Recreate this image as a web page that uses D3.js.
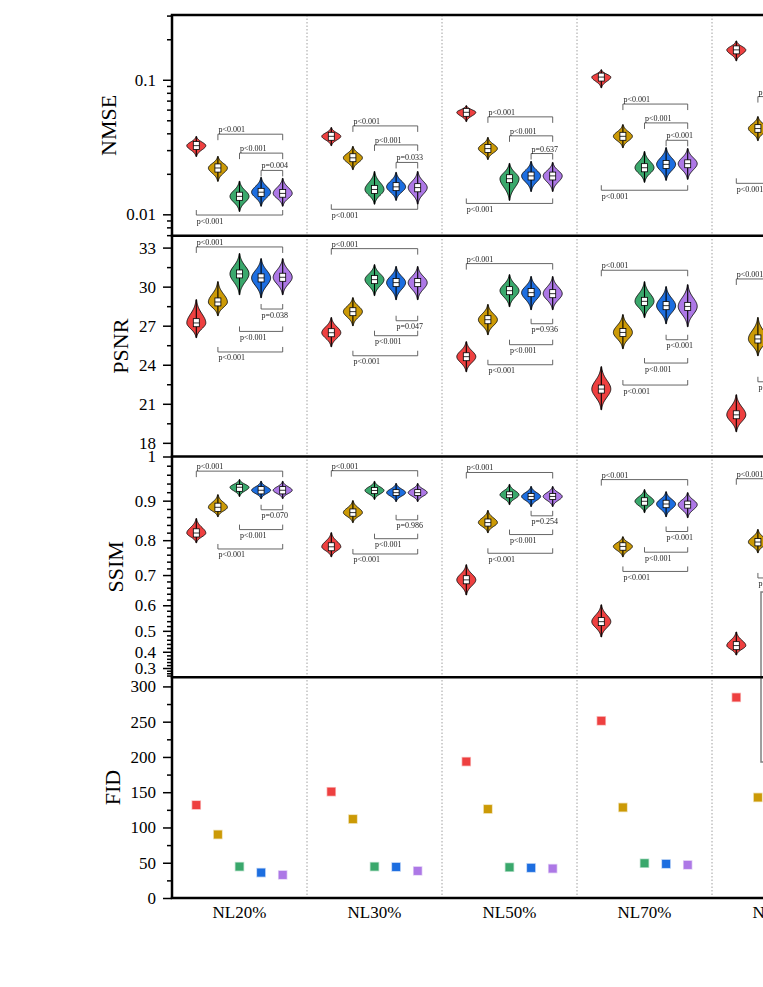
<!DOCTYPE html>
<html>
<head>
<meta charset="utf-8">
<script src="https://cdn.jsdelivr.net/npm/d3@7"></script>
<style>
    body { margin: 0; overflow: hidden; background: #fff; }
    text { font-family: "Liberation Serif", "Times New Roman", serif; }
    .brackets { filter: grayscale(1); }
</style>
</head>
<body>
<div id="wrapper"></div>
<script>
const groups = ["NL20%", "NL30%", "NL50%", "NL70%", "NL90%"];
const methods = ["M1", "M2", "M3", "M4", "M5"];
const methodColors = ["#ee4040", "#cc9a06", "#3aa86c", "#1d6ee0", "#ad78e6"];

// rows = methods, columns = groups
const nmseMed = [
    [0.0324, 0.0380, 0.0573, 0.1047, 0.1668],
    [0.0221, 0.0263, 0.0308, 0.0380, 0.0434],
    [0.0136, 0.0153, 0.0184, 0.0222, 0.0256],
    [0.0146, 0.0160, 0.0193, 0.0235, 0.0265],
    [0.0143, 0.0158, 0.0193, 0.0238, 0.0268]
];
const nmseQ1 = [
    [0.0303, 0.0355, 0.0535, 0.0978, 0.1558],
    [0.0206, 0.0246, 0.0288, 0.0355, 0.0407],
    [0.0127, 0.0143, 0.0172, 0.0207, 0.0240],
    [0.0136, 0.0150, 0.0180, 0.0219, 0.0248],
    [0.0134, 0.0147, 0.0180, 0.0222, 0.0251]
];
const nmseQ3 = [
    [0.0348, 0.0407, 0.0613, 0.1121, 0.1786],
    [0.0237, 0.0282, 0.0330, 0.0407, 0.0464],
    [0.0146, 0.0164, 0.0197, 0.0238, 0.0273],
    [0.0156, 0.0172, 0.0206, 0.0251, 0.0283],
    [0.0153, 0.0169, 0.0206, 0.0254, 0.0287]
];
const nmseLo = [
    [0.0269, 0.0324, 0.0489, 0.0872, 0.1382],
    [0.0176, 0.0215, 0.0256, 0.0313, 0.0353],
    [0.0105, 0.0119, 0.0127, 0.0173, 0.0200],
    [0.0115, 0.0127, 0.0148, 0.0179, 0.0207],
    [0.0115, 0.0119, 0.0148, 0.0182, 0.0210]
];
const nmseHi = [
    [0.0379, 0.0441, 0.0642, 0.1186, 0.1944],
    [0.0269, 0.0319, 0.0372, 0.0464, 0.0532],
    [0.0176, 0.0208, 0.0239, 0.0293, 0.0330],
    [0.0188, 0.0205, 0.0247, 0.0313, 0.0340],
    [0.0185, 0.0208, 0.0243, 0.0308, 0.0345]
];

const psnrMed = [
    [27.21, 26.46, 24.62, 22.13, 20.15],
    [28.82, 28.08, 27.46, 26.48, 25.98],
    [30.98, 30.54, 29.69, 28.87, 28.40],
    [30.67, 30.31, 29.54, 28.54, 28.10],
    [30.72, 30.31, 29.46, 28.48, 28.00]
];
const psnrQ1 = [
    [26.92, 26.15, 24.31, 21.82, 19.85],
    [28.52, 27.77, 27.15, 26.17, 25.67],
    [30.67, 30.23, 29.38, 28.56, 28.10],
    [30.36, 30.00, 29.23, 28.23, 27.80],
    [30.41, 30.00, 29.15, 28.17, 27.70]
];
const psnrQ3 = [
    [27.54, 26.77, 24.92, 22.44, 20.46],
    [29.13, 28.38, 27.77, 26.79, 26.29],
    [31.28, 30.85, 30.00, 29.18, 28.70],
    [30.98, 30.62, 29.85, 28.85, 28.40],
    [31.03, 30.62, 29.77, 28.79, 28.30]
];
const psnrLo = [
    [26.08, 25.38, 23.46, 20.54, 18.85],
    [27.77, 27.00, 26.31, 25.23, 24.69],
    [29.38, 29.31, 28.46, 27.62, 27.10],
    [29.15, 29.00, 28.23, 27.15, 26.80],
    [29.38, 29.00, 28.23, 26.92, 26.60]
];
const psnrHi = [
    [29.00, 27.62, 25.77, 23.85, 21.69],
    [30.38, 29.15, 28.62, 27.85, 27.62],
    [32.54, 31.69, 30.92, 30.38, 29.90],
    [32.15, 31.54, 30.77, 30.00, 29.60],
    [32.15, 31.54, 30.77, 30.15, 29.60]
];

const ssimMed = [
    [0.819, 0.782, 0.685, 0.538, 0.432],
    [0.884, 0.871, 0.846, 0.783, 0.795],
    [0.9315, 0.924, 0.914, 0.8985, 0.885],
    [0.9245, 0.919, 0.910, 0.892, 0.878],
    [0.9245, 0.919, 0.910, 0.8905, 0.876]
];
const ssimQ1 = [
    [0.8085, 0.771, 0.6725, 0.522, 0.411],
    [0.874, 0.862, 0.837, 0.7725, 0.7845],
    [0.922, 0.9167, 0.907, 0.889, 0.876],
    [0.916, 0.912, 0.9026, 0.883, 0.869],
    [0.916, 0.912, 0.9026, 0.882, 0.867]
];
const ssimQ3 = [
    [0.830, 0.793, 0.698, 0.554, 0.451],
    [0.894, 0.880, 0.855, 0.793, 0.8045],
    [0.938, 0.931, 0.921, 0.907, 0.894],
    [0.933, 0.926, 0.917, 0.901, 0.887],
    [0.933, 0.926, 0.917, 0.899, 0.885]
];
const ssimLo = [
    [0.793, 0.754, 0.636, 0.473, 0.382],
    [0.861, 0.846, 0.820, 0.754, 0.7655],
    [0.910, 0.903, 0.8905, 0.871, 0.850],
    [0.905, 0.898, 0.886, 0.861, 0.845],
    [0.905, 0.898, 0.886, 0.8585, 0.842]
];
const ssimHi = [
    [0.856, 0.820, 0.731, 0.6015, 0.495],
    [0.914, 0.900, 0.876, 0.809, 0.828],
    [0.949, 0.945, 0.938, 0.926, 0.910],
    [0.945, 0.940, 0.933, 0.921, 0.905],
    [0.945, 0.940, 0.933, 0.919, 0.903]
];

const fidValues = [
    [131.8, 150.7, 193.4, 251.2, 284.4],
    [90.0, 111.9, 126.1, 128.4, 142.6],
    [44.5, 44.5, 43.6, 49.3, 52.0],
    [36.0, 44.0, 42.7, 48.3, 50.0],
    [32.7, 38.4, 41.7, 46.9, 48.0]
];

// significance brackets: [method a, method b, side]
const nmsePairs = [[1, 4, "top"], [2, 4, "top"], [3, 4, "top"], [0, 4, "bottom"]];
const nmseBracketY = [
    [0.0394, 0.0285, 0.0212, 0.00988],
    [0.0454, 0.0328, 0.0243, 0.0109],
    [0.0530, 0.0383, 0.0283, 0.01205],
    [0.0660, 0.0478, 0.0355, 0.0151],
    [0.0750, 0.0550, 0.0400, 0.0170]
];
const nmsePLabels = [
    ["p<0.001", "p<0.001", "p=0.004", "p<0.001"],
    ["p<0.001", "p<0.001", "p=0.033", "p<0.001"],
    ["p<0.001", "p<0.001", "p=0.637", "p<0.001"],
    ["p<0.001", "p<0.001", "p<0.001", "p<0.001"],
    ["p<0.001", "p<0.001", "p<0.001", "p<0.001"]
];

const psnrPairs = [[0, 4, "top"], [3, 4, "bottom"], [2, 4, "bottom"], [1, 4, "bottom"]];
const psnrBracketY = [
    [33.05, 28.28, 26.56, 24.98],
    [32.92, 27.38, 26.23, 24.69],
    [31.77, 27.15, 25.54, 24.00],
    [31.26, 25.92, 24.13, 22.44],
    [30.59, 26.10, 24.40, 22.69]
];
const psnrPLabels = [
    ["p<0.001", "p=0.038", "p<0.001", "p<0.001"],
    ["p<0.001", "p=0.047", "p<0.001", "p<0.001"],
    ["p<0.001", "p=0.936", "p<0.001", "p<0.001"],
    ["p<0.001", "p<0.001", "p<0.001", "p<0.001"],
    ["p<0.001", "p<0.001", "p<0.001", "p<0.001"]
];

const ssimPairs = [[0, 4, "top"], [3, 4, "bottom"], [2, 4, "bottom"], [1, 4, "bottom"]];
const ssimBracketY = [
    [0.968, 0.878, 0.828, 0.776],
    [0.969, 0.853, 0.804, 0.762],
    [0.965, 0.863, 0.815, 0.764],
    [0.949, 0.823, 0.767, 0.711],
    [0.951, 0.800, 0.750, 0.691]
];
const ssimPLabels = [
    ["p<0.001", "p=0.070", "p<0.001", "p<0.001"],
    ["p<0.001", "p=0.986", "p<0.001", "p<0.001"],
    ["p<0.001", "p=0.254", "p<0.001", "p<0.001"],
    ["p<0.001", "p<0.001", "p<0.001", "p<0.001"],
    ["p<0.001", "p<0.001", "p<0.001", "p<0.001"]
];

const nmseTicks = [0.01, 0.1];
const psnrTicks = [18, 21, 24, 27, 30, 33];
const ssimTicks = [0.3, 0.4, 0.5, 0.6, 0.7, 0.8, 0.9, 1];
const fidTicks = [0, 50, 100, 150, 200, 250, 300];
const panelTitles = ["NMSE", "PSNR", "SSIM", "FID"];

function drawChart() {
    var dimension = {
        width: 900,
        height: 987,
        margin: { top: 15, left: 172 },
        groupWidth: 135,
        panelHeight: 220.75
    };
    dimension.plotRight = dimension.margin.left + groups.length * dimension.groupWidth;
    dimension.plotBottom = dimension.margin.top + 4 * dimension.panelHeight;

    const svg = d3.select("#wrapper").append("svg")
        .attr("width", dimension.width)
        .attr("height", dimension.height);

    const xGroup = d3.scaleBand()
        .domain(groups)
        .range([dimension.margin.left, dimension.plotRight]);
    const xInner = d3.scalePoint()
        .domain(d3.range(methods.length))
        .range([0, dimension.groupWidth])
        .padding(1.125);
    const xPos = (gi, mi) => xGroup(groups[gi]) + xInner(mi);

    const panelTop = (i) => dimension.margin.top + i * dimension.panelHeight;

    const yNmse = d3.scaleLog().domain([0.00693, 0.303]).range([panelTop(1), panelTop(0)]);
    const yPsnr = d3.scaleLinear().domain([16.95, 33.91]).range([panelTop(2), panelTop(1)]);
    const ySsim = d3.scalePow().exponent(2).domain([0.2243, 1]).range([panelTop(3), panelTop(2)]);
    const yFid = d3.scaleLinear().domain([0, 313]).range([panelTop(4), panelTop(3)]);

    // dotted separators between groups
    svg.append("g").selectAll("line")
        .data(groups.slice(1))
        .join("line")
        .attr("x1", d => xGroup(d)).attr("x2", d => xGroup(d))
        .attr("y1", dimension.margin.top).attr("y2", dimension.plotBottom)
        .attr("stroke", "#a0a0a0")
        .attr("stroke-width", 1)
        .attr("stroke-dasharray", "1.5,2");

    // legend frame (mostly outside the visible area)
    svg.append("rect")
        .attr("x", 761).attr("y", 592)
        .attr("width", 120).attr("height", 170)
        .attr("fill", "#fff")
        .attr("stroke", "#808080")
        .attr("stroke-width", 1.5);

    const halfW = 9.5;
    const area = d3.area()
        .y(d => d.y)
        .x0(d => d.cx - d.w)
        .x1(d => d.cx + d.w)
        .curve(d3.curveCatmullRom);

    function drawViolins(yScale, med, q1, q3, lo, hi) {
        const g = svg.append("g");
        methods.forEach((m, mi) => {
            groups.forEach((grp, gi) => {
                const cx = xPos(gi, mi);
                const yMed = yScale(med[mi][gi]);
                const yTop = yScale(hi[mi][gi]);
                const yBot = yScale(lo[mi][gi]);
                const pts = d3.range(0, 41).map(k => {
                    const y = yTop + (yBot - yTop) * k / 40;
                    const span = y < yMed ? (yMed - yTop) : (yBot - yMed);
                    const t = Math.abs(y - yMed) / (span / 2.6);
                    return { cx: cx, y: y, w: halfW * Math.exp(-0.5 * t * t) };
                });
                g.append("path")
                    .attr("d", area(pts))
                    .attr("fill", methodColors[mi])
                    .attr("stroke", "#111")
                    .attr("stroke-width", 0.9);
                g.append("line")
                    .attr("x1", cx).attr("x2", cx)
                    .attr("y1", yTop).attr("y2", yBot)
                    .attr("stroke", "#000")
                    .attr("stroke-width", 1.1);
                const b1 = yScale(q3[mi][gi]);
                const b2 = yScale(q1[mi][gi]);
                g.append("rect")
                    .attr("x", cx - 3).attr("y", b1)
                    .attr("width", 6).attr("height", b2 - b1)
                    .attr("fill", "#fff")
                    .attr("stroke", "#000")
                    .attr("stroke-width", 0.8);
                g.append("line")
                    .attr("x1", cx - 3).attr("x2", cx + 3)
                    .attr("y1", yMed).attr("y2", yMed)
                    .attr("stroke", "#000")
                    .attr("stroke-width", 0.8);
            });
        });
    }

    function drawBrackets(yScale, pairs, levels, labels) {
        const g = svg.append("g").attr("class", "brackets");
        groups.forEach((grp, gi) => {
            pairs.forEach((pair, k) => {
                const xa = xPos(gi, pair[0]);
                const xb = xPos(gi, pair[1]);
                const y = yScale(levels[gi][k]);
                const leg = pair[2] === "top" ? 6 : -5;
                g.append("path")
                    .attr("d", `M${xa},${y + leg}V${y}H${xb}V${y + leg}`)
                    .attr("fill", "none")
                    .attr("stroke", "#555")
                    .attr("stroke-width", 0.9);
                g.append("text")
                    .attr("x", xa + 0.5)
                    .attr("y", pair[2] === "top" ? y - 2 : y + 8.5)
                    .attr("font-size", 8)
                    .attr("fill", "#222")
                    .text(labels[gi][k]);
            });
        });
    }

    drawViolins(yNmse, nmseMed, nmseQ1, nmseQ3, nmseLo, nmseHi);
    drawBrackets(yNmse, nmsePairs, nmseBracketY, nmsePLabels);
    drawViolins(yPsnr, psnrMed, psnrQ1, psnrQ3, psnrLo, psnrHi);
    drawBrackets(yPsnr, psnrPairs, psnrBracketY, psnrPLabels);
    drawViolins(ySsim, ssimMed, ssimQ1, ssimQ3, ssimLo, ssimHi);
    drawBrackets(ySsim, ssimPairs, ssimBracketY, ssimPLabels);

    // FID squares
    const fidG = svg.append("g");
    methods.forEach((m, mi) => {
        fidG.selectAll(null)
            .data(fidValues[mi])
            .join("rect")
            .attr("x", (d, gi) => xPos(gi, mi) - 4)
            .attr("y", d => yFid(d) - 4)
            .attr("width", 8).attr("height", 8)
            .attr("fill", methodColors[mi])
            .attr("stroke", methodColors[mi])
            .attr("stroke-opacity", 0.35)
            .attr("stroke-width", 1.5);
    });

    // y axes with major + minor ticks
    const nmseMinor = [0.007, 0.008, 0.009, 0.02, 0.03, 0.04, 0.05, 0.06, 0.07, 0.08, 0.09, 0.2, 0.3];
    const psnrMinor = psnrTicks.slice(0, -1).map(d => d + 1.5);
    const ssimMinor = d3.range(0.24, 1, 0.02).filter(d => Math.abs(d * 10 - Math.round(d * 10)) > 0.01);
    const fidMinor = fidTicks.slice(0, -1).map(d => d + 25);

    const axes = [
        [yNmse, nmseTicks, nmseMinor],
        [yPsnr, psnrTicks, psnrMinor],
        [ySsim, ssimTicks, ssimMinor],
        [yFid, fidTicks, fidMinor]
    ];
    axes.forEach(([scale, major, minor]) => {
        const gMinor = svg.append("g")
            .attr("transform", `translate(${dimension.margin.left},0)`)
            .call(d3.axisLeft(scale).tickValues(minor).tickSize(5).tickSizeOuter(0).tickFormat(""));
        const gMajor = svg.append("g")
            .attr("transform", `translate(${dimension.margin.left},0)`)
            .call(d3.axisLeft(scale).tickValues(major).tickSize(9).tickSizeOuter(0).tickPadding(7)
                .tickFormat(d => String(d)));
        [gMinor, gMajor].forEach(a => {
            a.select(".domain").remove();
            a.selectAll(".tick line").attr("stroke", "#000").attr("stroke-width", 1.5);
        });
        gMajor.selectAll(".tick text")
            .attr("font-size", 17)
            .attr("fill", "#000");
    });

    // panel frames
    const frame = svg.append("g");
    d3.range(5).forEach(i => {
        frame.append("line")
            .attr("x1", dimension.margin.left - 1.25).attr("x2", dimension.plotRight)
            .attr("y1", panelTop(i)).attr("y2", panelTop(i))
            .attr("stroke", "#000").attr("stroke-width", 2.5);
    });
    [dimension.margin.left, dimension.plotRight].forEach(x => {
        frame.append("line")
            .attr("x1", x).attr("x2", x)
            .attr("y1", dimension.margin.top).attr("y2", dimension.plotBottom)
            .attr("stroke", "#000").attr("stroke-width", 2.5);
    });

    // axis titles
    const titleX = [108, 120, 115, 112];
    panelTitles.forEach((t, i) => {
        const cy = panelTop(i) + dimension.panelHeight / 2;
        svg.append("text")
            .attr("transform", `translate(${titleX[i]},${cy}) rotate(-90)`)
            .attr("text-anchor", "middle")
            .attr("dominant-baseline", "central")
            .attr("font-size", 22)
            .text(t);
    });

    // group labels
    svg.append("g").selectAll("text")
        .data(groups)
        .join("text")
        .attr("x", d => xGroup(d) + xGroup.bandwidth() / 2)
        .attr("y", dimension.plotBottom + 20)
        .attr("text-anchor", "middle")
        .attr("font-size", 17)
        .text(d => d);
}

drawChart();
</script>
</body>
</html>
